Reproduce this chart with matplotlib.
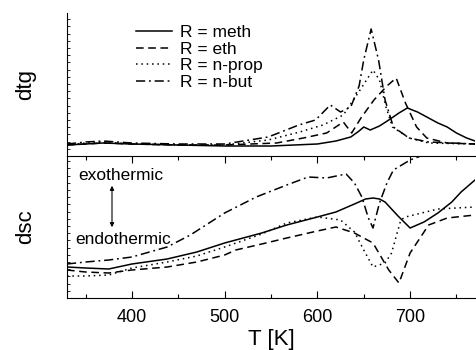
import matplotlib
matplotlib.use("Agg")
import matplotlib.pyplot as plt
import numpy as np

plt.rcParams['font.family'] = ['Liberation Sans', 'DejaVu Sans']

labels = ["R = meth", "R = eth", "R = n-prop", "R = n-but"]
styles = ["-", (0, (5, 3)), (0, (1, 2.5)), (0, (6, 2.5, 1.2, 2.5))]

# DTG (upper panel), arbitrary units
dtg_meth_T = [330,350,369,400,450,500,550,600,620,636,645,650,657,667,677,688,697,708,718,730,740,750,761,770]
dtg_meth_v = [11,12,13,12,11,10,10,12,15,19,25,29,26,30,36,43,48,44,39,33,29,23,18,15]
dtg_eth_T = [330,350,369,400,450,500,556,585,610,628,637,647,661,675,685,695,707,718,740,770]
dtg_eth_v = [11,12,13,12,11,11,13,18,23,34,23,38,56,70,78,53,29,18,13,12]
dtg_prop_T = [330,350,369,400,450,500,547,581,606,628,646,660,667,674,681,699,720,770]
dtg_prop_v = [11,13,14,12,11,11,16,24,31,41,66,86,76,49,29,18,13,12]
dtg_but_T = [330,350,369,400,450,500,547,580,598,614,625,636,645,650,658,666,673,682,699,720,770]
dtg_but_v = [12,14,15,13,12,12,19,31,36,51,44,49,70,96,127,96,56,29,18,14,12]

# DSC (lower panel), arbitrary units
dsc_meth_T = [330,350,375,400,438,470,500,540,567,600,620,640,652,660,667,673,687,700,715,730,745,755,770]
dsc_meth_v = [31,30,29,34,39,46,55,65,73,81,86,94,99,100,99,96,82,70,76,85,96,106,118]
dsc_eth_T = [330,350,375,400,438,470,500,512,540,567,600,620,640,660,677,688,700,720,740,770]
dsc_eth_v = [28,26,25,28,31,36,43,48,54,60,67,71,65,55,28,15,45,73,80,83]
dsc_prop_T = [330,350,375,400,438,470,500,540,567,600,625,640,650,660,673,680,690,695,730,770]
dsc_prop_v = [22,22,23,30,36,42,51,64,75,81,78,66,48,31,35,45,78,81,89,91]
dsc_but_T = [330,350,375,400,438,463,500,534,567,590,610,631,640,648,655,660,667,675,682,700,720,770]
dsc_but_v = [34,36,38,41,51,63,85,101,113,121,120,124,115,101,80,70,95,115,128,138,145,160]

W, H = 476, 350
fig = plt.figure(figsize=(W/100, H/100), dpi=100)
left = 67/W
width = (475-67)/W
ax1 = fig.add_axes([left, 1-156/H, width, (156-13)/H])
ax2 = fig.add_axes([left, 1-298/H, width, (298-156)/H])
ax1.set_zorder(3)
ax1.patch.set_visible(False)

dtg = [(dtg_meth_T, dtg_meth_v), (dtg_eth_T, dtg_eth_v), (dtg_prop_T, dtg_prop_v), (dtg_but_T, dtg_but_v)]
dsc = [(dsc_meth_T, dsc_meth_v), (dsc_eth_T, dsc_eth_v), (dsc_prop_T, dsc_prop_v), (dsc_but_T, dsc_but_v)]

for (t, v), ls, lab in zip(dtg, styles, labels):
    ax1.plot(t, v, color='black', linestyle=ls, lw=1.1, label=lab)
for (t, v), ls in zip(dsc, styles):
    ax2.plot(t, v, color='black', linestyle=ls, lw=1.1)

for ax in (ax1, ax2):
    ax.set_xlim(330, 770)
    ax.spines['right'].set_visible(False)
    ax.spines['top'].set_visible(False)
    ax.set_yticks(np.arange(0, 150, 7.2))
    ax.tick_params(axis='y', direction='in', length=2, width=0.6, labelleft=False)
ax1.set_ylim(0, 143)
ax2.set_ylim(0, 142)

ax1.tick_params(axis='x', bottom=False, labelbottom=False)
ax2.set_xticks([400, 500, 600, 700])
ax2.set_xticks([350, 450, 550, 650, 750], minor=True)
ax2.tick_params(axis='x', which='major', direction='in', length=5, width=0.8, top=True, labelsize=13, pad=8)
ax2.tick_params(axis='x', which='minor', direction='in', length=3, width=0.8, top=True)

ax1.set_ylabel('dtg', fontsize=16, labelpad=22)
ax2.set_ylabel('dsc', fontsize=16, labelpad=22)
ax2.set_xlabel('T [K]', fontsize=16, labelpad=2)

leg = ax1.legend(loc='upper left', bbox_to_anchor=((136-67)/408, (156-25)/143), frameon=False, fontsize=12.5,
                 handlelength=2.1, handletextpad=0.45, labelspacing=0.08, borderaxespad=0, borderpad=0)

ax2.text(78/W, 1-176/H, 'exothermic', transform=fig.transFigure, fontsize=12.5, va='center', ha='left')
ax2.text(75/W, 1-240/H, 'endothermic', transform=fig.transFigure, fontsize=12.5, va='center', ha='left')
ax2.annotate('', xy=(112/W, 1-230/H), xytext=(112/W, 1-183/H), xycoords='figure fraction',
             textcoords='figure fraction',
             arrowprops=dict(arrowstyle='<|-|>', color='black', lw=0.8, mutation_scale=6))

fig.savefig('out.png', dpi=100)
